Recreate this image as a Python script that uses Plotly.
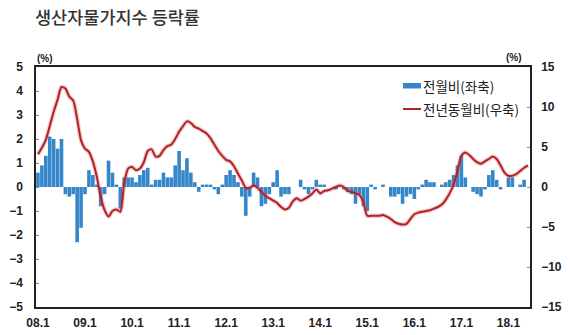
import plotly.graph_objects as go

# ---- data ----
years = list(range(2008, 2019))
months = [f"{y}-{m:02d}" for y in years for m in range(1, 13)][:126]   # 2008-01 .. 2018-06
tick_vals = [f"{y}-01" for y in years]
tick_text = ["08.1", "09.1", "10.1", "11.1", "12.1", "13.1", "14.1", "15.1", "16.1", "17.1", "18.1"]

# month-on-month change (%), left axis
mom = [
    0.6, 0.9, 1.3, 2.1, 2.0, 1.6, 2.0, -0.3, -0.4, -0.3, -2.3, -1.7,   # 2008
    -0.3, 0.7, 0.5, 0.1, -0.8, -0.3, 1.1, 0.6, 0.1, -0.9, 0.4, 0.4,    # 2009
    0.4, 0.2, 0.5, 0.7, 0.8, 0.1, 0.3, 0.3, 0.6, 0.4, 0.4, 0.9,        # 2010
    1.5, 0.7, 1.2, 0.6, 0.2, -0.2, 0.1, 0.1, 0.1, -0.1, -0.3, 0.1,     # 2011
    0.5, 0.7, 0.5, 0.2, -0.4, -1.2, -0.4, 0.6, 0.4, -0.8, -0.7, -0.3,  # 2012
    0.2, 0.7, -0.4, -0.3, -0.3, 0.0, 0.0, 0.3, -0.1, -0.3, -0.1, 0.3,  # 2013
    0.1, 0.1, 0.0, 0.0, -0.1, 0.0, -0.1, -0.2, -0.3, -0.7, -0.3, -0.8, # 2014
    -1.0, 0.1, -0.1, 0.0, 0.1, 0.0, -0.4, -0.4, -0.3, -0.7, -0.4, -0.3,# 2015
    -0.5, -0.1, 0.1, 0.3, 0.2, 0.2, 0.0, 0.1, 0.2, 0.3, 0.5, 0.9,      # 2016
    1.3, 0.4, 0.0, -0.2, -0.3, -0.4, -0.1, 0.5, 0.7, 0.3, -0.1, 0.0,   # 2017
    0.4, 0.4, 0.0, 0.1, 0.3, 0.0,                                      # 2018
]

# year-on-year change (%), right axis
yoy = [
    4.1, 4.9, 5.9, 7.6, 9.4, 10.9, 12.5, 12.3, 11.3, 10.8, 8.5, 5.8,     # 2008
    4.8, 4.4, 3.2, 1.3, -1.2, -2.9, -3.7, -3.0, -2.8, -3.1, 0.5, 2.3,    # 2009
    2.5, 2.1, 2.3, 3.1, 4.5, 4.7, 3.8, 3.9, 4.6, 5.1, 5.3, 6.0,          # 2010
    6.9, 7.6, 8.2, 8.0, 7.5, 7.3, 7.0, 6.7, 6.1, 5.3, 4.5, 3.9,          # 2011
    3.4, 3.2, 2.6, 1.7, 0.8, -0.1, -0.1, 0.2, -0.1, -0.6, -1.1, -1.4,    # 2012
    -1.7, -2.0, -2.5, -2.8, -2.6, -1.8, -1.4, -1.7, -1.5, -1.2, -0.8, -0.3, # 2013
    -0.8, -0.5, -0.4, -0.2, 0.0, 0.2, 0.0, -0.5, -0.6, -0.8, -1.0, -1.9, # 2014
    -3.6, -3.6, -3.6, -3.6, -3.5, -3.7, -4.0, -4.4, -4.6, -4.7, -4.6, -4.0, # 2015
    -3.4, -3.2, -3.1, -3.0, -2.9, -2.7, -2.5, -2.2, -1.6, -0.8, 0.3, 2.0,   # 2016
    3.9, 4.3, 4.0, 3.5, 3.1, 2.9, 3.2, 3.5, 3.8, 3.5, 2.7, 1.8,          # 2017
    1.4, 1.4, 1.6, 2.0, 2.4, 2.7,                                        # 2018
]

title_text = "생산자물가지수 등락률"
legend_bar = "전월비(좌축)"
legend_line = "전년동월비(우축)"

BAR_C = "#3687c9"
LINE_C = "#ae2329"

fig = go.Figure()
fig.add_trace(go.Bar(x=months, y=mom, marker=dict(color=BAR_C, line=dict(width=0)),
                     name=legend_bar, yaxis="y", showlegend=False))
fig.add_trace(go.Scatter(x=months, y=yoy, mode="lines", yaxis="y2", showlegend=False,
                         line=dict(color="rgba(225,70,70,0.28)", width=4.5, shape="spline", smoothing=0.7),
                         hoverinfo="skip"))
fig.add_trace(go.Scatter(x=months, y=yoy, mode="lines", yaxis="y2", name=legend_line, showlegend=False,
                         line=dict(color=LINE_C, width=2, shape="spline", smoothing=0.7)))

L, R, T, B = 36, 40, 67, 28
W, H = 570, 335
pw, ph = W - L - R, H - T - B


def px(xp):
    return (xp - L) / pw


def py(yp):
    return 1 - (yp - T) / ph


tick_font = dict(family="Liberation Sans, Arial, sans-serif", size=12, color="#222", weight="bold")

fig.update_layout(
    width=W, height=H, margin=dict(l=L, r=R, t=T, b=B, autoexpand=False),
    paper_bgcolor="white", plot_bgcolor="white",
    bargap=0.08,
    xaxis=dict(type="category", categoryorder="array", categoryarray=months,
               tickmode="array", tickvals=tick_vals, ticktext=tick_text,
               showline=True, linecolor="#222", linewidth=1.5, mirror=True,
               ticks="", showgrid=False, zeroline=False, tickfont=tick_font,
               ticklabelstandoff=4, automargin=False, range=[-0.5, len(months) - 0.5]),
    yaxis=dict(range=[-5, 5], dtick=1, tick0=0, showline=True, linecolor="#222", linewidth=1.5,
               ticks="inside", ticklen=3, tickcolor="#888", showgrid=False, zeroline=False,
               tickfont=tick_font, ticklabelstandoff=9, automargin=False),
    yaxis2=dict(range=[-15, 15], dtick=5, tick0=0, overlaying="y", side="right",
                showline=True, linecolor="#222", linewidth=1.5,
                ticks="inside", ticklen=3, tickcolor="#888", showgrid=False, zeroline=False,
                tickfont=tick_font, ticklabelstandoff=7, automargin=False),
    showlegend=False,
)

# title
fig.add_annotation(text=title_text, x=px(33), y=py(16), xref="paper", yref="paper",
                   showarrow=False, xanchor="left", yanchor="middle",
                   font=dict(family="Noto Sans CJK KR", size=17.5, color="#333333", weight=500))

# unit labels
unit_font = dict(family="Liberation Sans, Arial, sans-serif", size=10, color="#222", weight="bold")
fig.add_annotation(text="(%)", x=px(45), y=py(59), xref="paper", yref="paper",
                   showarrow=False, font=unit_font, xanchor="center", yanchor="middle")
fig.add_annotation(text="(%)", x=px(514), y=py(58), xref="paper", yref="paper",
                   showarrow=False, font=unit_font, xanchor="center", yanchor="middle")

# legend (drawn manually)
leg_font = dict(family="Noto Sans CJK KR", size=13.5, color="#222")
fig.add_shape(type="rect", xref="paper", yref="paper", x0=px(403), x1=px(421), y0=py(88.5), y1=py(83),
              fillcolor=BAR_C, line=dict(width=0))
fig.add_shape(type="line", xref="paper", yref="paper", x0=px(403), x1=px(421), y0=py(109), y1=py(109),
              line=dict(color=LINE_C, width=2))
fig.add_annotation(text=legend_bar, x=px(421), y=py(86), xref="paper", yref="paper",
                   showarrow=False, font=leg_font, xanchor="left", yanchor="middle")
fig.add_annotation(text=legend_line, x=px(421), y=py(109), xref="paper", yref="paper",
                   showarrow=False, font=leg_font, xanchor="left", yanchor="middle")

fig.write_html("out.html")
